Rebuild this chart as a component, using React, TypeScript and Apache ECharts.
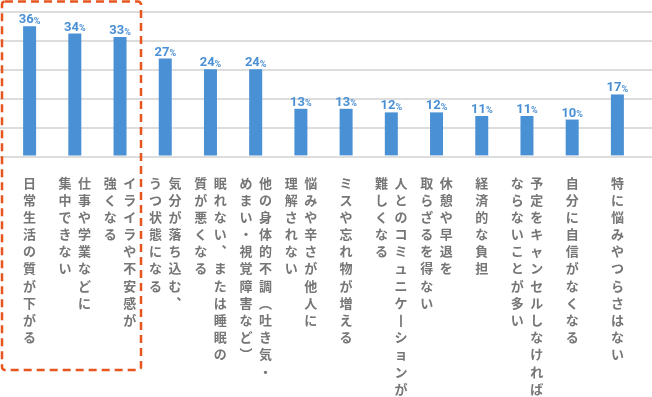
import React, { useEffect, useRef } from "react";
import * as echarts from "echarts";

// Each category: columns of vertical text (first column is the rightmost one)
const categories: string[][] = [
  ["日常生活の質が下がる"],
  ["仕事や学業などに", "集中できない"],
  ["イライラや不安感が", "強くなる"],
  ["気分が落ち込む、", "うつ状態になる"],
  ["眠れない、または睡眠の", "質が悪くなる"],
  ["他の身体的不調（吐き気・", "めまい・視覚障害など）"],
  ["悩みや辛さが他人に", "理解されない"],
  ["ミスや忘れ物が増える"],
  ["人とのコミュニケーションが", "難しくなる"],
  ["休憩や早退を", "取らざるを得ない"],
  ["経済的な負担"],
  ["予定をキャンセルしなければ", "ならないことが多い"],
  ["自分に自信がなくなる"],
  ["特に悩みやつらさはない"],
];

const values: number[] = [36, 34, 33, 27, 24, 24, 13, 13, 12, 12, 11, 11, 10, 17];

const yTicks: number[] = [0, 8, 16, 24, 32, 40];

const verticalMap: Record<string, string> = {
  "、": "\uFE11",
  "（": "\uFE35",
  "）": "\uFE36",
  "ー": "\u4E28",
};

function toVertical(cols: string[]): string {
  const chars = cols.map((c) => Array.from(c).map((ch) => verticalMap[ch] ?? ch));
  const n = Math.max(...chars.map((c) => c.length));
  const rows: string[] = [];
  for (let i = 0; i < n; i++) {
    // rightmost column is the first one
    const parts: string[] = [];
    for (let k = chars.length - 1; k >= 0; k--) {
      parts.push(chars[k][i] ?? "\u3000");
    }
    rows.push(parts.join("\u2002"));
  }
  return rows.join("\n");
}

const labelTexts = categories.map(toVertical);

export default function App() {
  const ref = useRef<HTMLDivElement>(null);

  useEffect(() => {
    if (!ref.current) return;
    const chart = echarts.init(ref.current, undefined, { renderer: "svg" });
    const blue = "#4a90d4";
    chart.setOption({
      animation: false,
      grid: [
        { left: 0, right: 0, top: 12, bottom: 240 },
        { left: 7, right: 12, top: 12, bottom: 240 },
      ],
      xAxis: [
        { gridIndex: 0, type: "value", min: 0, max: 1, show: false },
        {
          gridIndex: 1,
          type: "category",
          data: labelTexts,
          axisLine: { show: false },
          axisTick: { show: false },
          axisLabel: {
            interval: 0,
            margin: 18,
            color: "#767676",
            fontWeight: "bold",
            fontSize: 13,
            lineHeight: 17.2,
            fontFamily: "Noto Sans CJK JP",
            align: "center",
          },
        },
      ],
      yAxis: [
        {
          gridIndex: 0,
          type: "value",
          min: yTicks[0],
          max: yTicks[yTicks.length - 1],
          interval: yTicks[1] - yTicks[0],
          axisLabel: { show: false },
          axisLine: { show: false },
          axisTick: { show: false },
          splitLine: { show: true, lineStyle: { color: "#d2d2d2", width: 1.6 } },
        },
        {
          gridIndex: 1,
          type: "value",
          min: yTicks[0],
          max: yTicks[yTicks.length - 1],
          interval: yTicks[1] - yTicks[0],
          show: false,
          splitLine: { show: false },
        },
      ],
      series: [
        {
          type: "bar",
          xAxisIndex: 1,
          yAxisIndex: 1,
          data: values,
          barWidth: 13,
          itemStyle: { color: blue },
          label: {
            show: true,
            position: "top",
            distance: 1,
            formatter: (p: any) => `{v|${p.value}}{p|%}`,
            rich: {
              v: {
                color: blue,
                fontSize: 13,
                fontWeight: "bold",
                fontFamily: "Roboto",
              },
              p: {
                color: blue,
                fontSize: 9,
                fontWeight: "bold",
                fontFamily: "Roboto",
                verticalAlign: "bottom",
              },
            },
          },
        },
      ],
      graphic: [
        {
          type: "rect",
          shape: { x: 2, y: 1.5, width: 139, height: 368.5, r: 3 },
          style: {
            fill: "none",
            stroke: "#e8561f",
            lineWidth: 2.5,
            lineDash: [8, 5],
          },
          z: 10,
        },
      ],
    });
    return () => chart.dispose();
  }, []);

  return (
    <div
      ref={ref}
      style={{ position: "fixed", left: 0, top: 0, width: 652, height: 397 }}
    />
  );
}
